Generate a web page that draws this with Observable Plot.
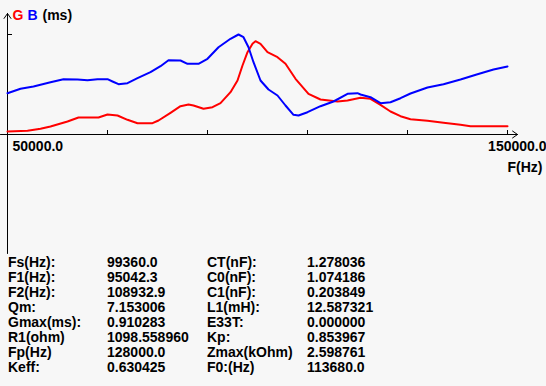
<!DOCTYPE html>
<html>
<head>
<meta charset="utf-8">
<script src="https://cdn.jsdelivr.net/npm/d3@7"></script>
<script src="https://cdn.jsdelivr.net/npm/@observablehq/plot@0.6"></script>
<style>
  html, body { margin: 0; padding: 0; background: #f7f7f7; width: 546px; height: 386px; overflow: hidden; }
  body { font-family: "Liberation Sans", Arial, sans-serif; font-weight: bold; font-size: 14px; color: #000; }
  #chart svg { display: block; }
  #table { display: grid; grid-template-columns: 99px 100px 100px 200px; padding-left: 8px; line-height: 15.14px; margin-top: 0.5px; }
  #table div { white-space: nowrap; }
</style>
</head>
<body>
<div id="chart"></div>
<div id="table"></div>
<script>
// Frequency (Hz) sample points
const freqG = [50000,54000,56600,58600,62000,64200,68200,70000,72000,74000,76000,79000,80200,82600,84600,86200,87200,89200,91000,92600,94600,96000,97000,98000,99000,99600,100600,102000,104000,105600,107600,110200,112600,116000,118000,120600,122600,124600,126600,128600,130600,134000,137200,140600,142600,150000];
// G (ms) - red
const gValues = [0.03,0.037,0.057,0.08,0.13,0.17,0.17,0.20,0.19,0.147,0.113,0.113,0.14,0.217,0.283,0.30,0.29,0.257,0.273,0.313,0.423,0.54,0.69,0.823,0.907,0.933,0.907,0.823,0.773,0.707,0.557,0.407,0.35,0.33,0.34,0.367,0.357,0.297,0.23,0.183,0.153,0.137,0.117,0.097,0.083,0.083];

const freqB = [50000,52600,55200,58600,61200,64000,66000,68000,70000,71000,72200,74000,76000,78600,80600,82200,84600,86000,88200,90000,92200,94600,96200,97200,98200,99200,100600,102200,104000,105600,107200,108200,110000,112600,115200,118000,120000,120600,122600,124600,126600,128600,130600,134000,137200,140600,144000,147200,150000];
// B (ms) - blue
const bValues = [0.413,0.457,0.48,0.523,0.553,0.55,0.543,0.553,0.553,0.53,0.503,0.513,0.563,0.623,0.683,0.743,0.74,0.707,0.707,0.757,0.873,0.957,1.0,0.973,0.873,0.723,0.54,0.45,0.39,0.29,0.197,0.19,0.223,0.283,0.33,0.407,0.413,0.40,0.373,0.313,0.323,0.363,0.41,0.47,0.503,0.55,0.603,0.65,0.68];

const xDomain = [50000, 150000];
const xTicks = [70000, 90000, 110000, 130000, 150000];
const yTicks = [1];
const xTickLabels = ["50000.0", "150000.0"];
const xAxisTitle = "F(Hz)";
const legendParts = ["G", "B", "(ms)"];

const tableLabels1 = ["Fs(Hz):","F1(Hz):","F2(Hz):","Qm:","Gmax(ms):","R1(ohm)","Fp(Hz)","Keff:"];
const tableValues1 = ["99360.0","95042.3","108932.9","7.153006","0.910283","1098.558960","128000.0","0.630425"];
const tableLabels2 = ["CT(nF):","C0(nF):","C1(nF):","L1(mH):","E33T:","Kp:","Zmax(kOhm)","F0:(Hz)"];
const tableValues2 = ["1.278036","1.074186","0.203849","12.587321","0.000000","0.853967","2.598761","113680.0"];

const gData = freqG.map((f, i) => ({f, v: gValues[i]}));
const bData = freqB.map((f, i) => ({f, v: bValues[i]}));

const RED = "#ff0000", BLUE = "#0000ff";
const hzPerPx = (xDomain[1] - xDomain[0]) / 500;
const unitPerPx = 1 / 100;

const plot = Plot.plot({
  width: 546,
  height: 254,
  marginLeft: 7,
  marginRight: 39,
  marginTop: 34,
  marginBottom: 120,
  x: {domain: xDomain, axis: null},
  y: {domain: [0, 1], axis: null},
  style: {background: "#f7f7f7", fontFamily: "Liberation Sans, Arial, sans-serif", fontWeight: "bold", fontSize: "14px", overflow: "visible", color: "#000"},
  marks: [
    // x axis with arrow
    Plot.arrow([0], {x1: xDomain[0] - 7 * hzPerPx, x2: xDomain[1] + 10 * hzPerPx, y1: 0, y2: 0, stroke: "#000", strokeWidth: 1, headLength: 9, headAngle: 70}),
    // y axis with arrow
    Plot.arrow([0], {x1: xDomain[0], x2: xDomain[0], y1: -119 * unitPerPx, y2: 121 * unitPerPx, stroke: "#000", strokeWidth: 1, headLength: 9, headAngle: 70}),
    Plot.ruleX(xTicks, {x: d => d, y1: 0, y2: 4 * unitPerPx, stroke: "#000", strokeWidth: 1}),
    Plot.ruleY(yTicks, {y: d => d, x1: xDomain[0], x2: xDomain[0] + 5 * hzPerPx, stroke: "#000", strokeWidth: 1}),
    Plot.line(gData, {x: "f", y: "v", stroke: RED, strokeWidth: 2}),
    Plot.line(bData, {x: "f", y: "v", stroke: BLUE, strokeWidth: 2}),
    Plot.text([xTickLabels[0]], {x: xDomain[0], y: 0, text: d => d, dx: 5, dy: 12, textAnchor: "start", lineAnchor: "middle", fill: "#000"}),
    Plot.text([xTickLabels[1]], {x: xDomain[1], y: 0, text: d => d, dx: 39, dy: 12, textAnchor: "end", lineAnchor: "middle", fill: "#000"}),
    Plot.text([xAxisTitle], {x: xDomain[1], y: 0, text: d => d, dx: 0, dy: 33, textAnchor: "start", lineAnchor: "middle", fill: "#000"}),
    Plot.text([legendParts[0]], {frameAnchor: "top-left", text: d => d, dx: 5, dy: -19, textAnchor: "start", lineAnchor: "middle", fill: RED}),
    Plot.text([legendParts[1]], {frameAnchor: "top-left", text: d => d, dx: 20, dy: -19, textAnchor: "start", lineAnchor: "middle", fill: BLUE}),
    Plot.text([legendParts[2]], {frameAnchor: "top-left", text: d => d, dx: 35, dy: -19, textAnchor: "start", lineAnchor: "middle", fill: "#000"})
  ]
});
document.getElementById("chart").appendChild(plot);

const table = document.getElementById("table");
for (let i = 0; i < tableLabels1.length; i++) {
  for (const t of [tableLabels1[i], tableValues1[i], tableLabels2[i], tableValues2[i]]) {
    const d = document.createElement("div");
    d.textContent = t;
    table.appendChild(d);
  }
}
</script>
</body>
</html>
